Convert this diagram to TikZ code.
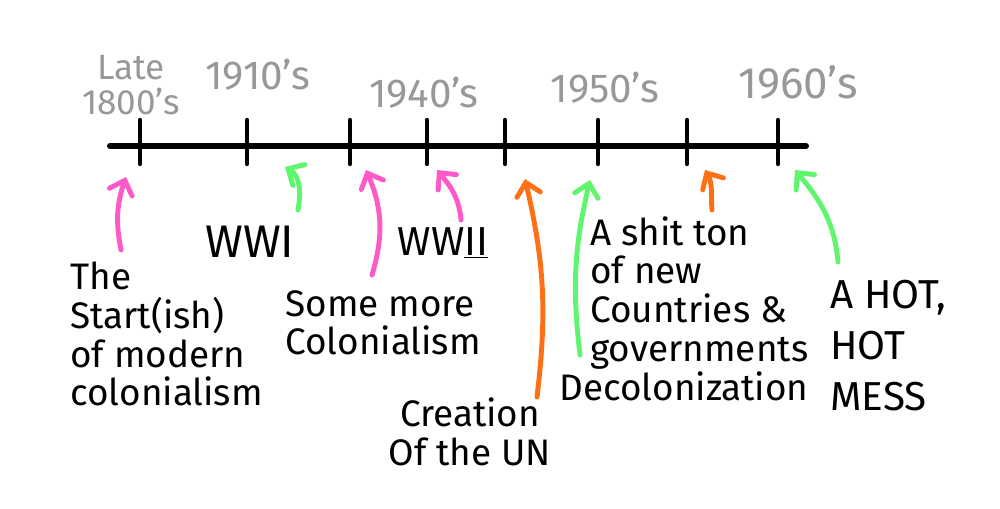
\documentclass[tikz,border=0pt]{standalone}
\usepackage{fontspec}
\setmainfont{Fira Sans}
\usetikzlibrary{arrows.meta}
\definecolor{cpink}{RGB}{255,88,200}
\definecolor{cgreen}{RGB}{95,245,110}
\definecolor{corange}{RGB}{255,112,20}
\definecolor{cgray}{RGB}{152,152,152}

\begin{document}
\begin{tikzpicture}[
    x=0.02cm, y=-0.02cm,
    axis/.style={line width=3.4pt, line cap=round},
    tickmark/.style={line width=2.5pt, line cap=round},
    year/.style={text=cgray, font=\fontsize{23}{19}\selectfont, align=center, inner sep=0pt},
    note/.style={font=\fontsize{21}{22}\selectfont, align=left, inner sep=0pt},
    pointer/.style={draw=#1, line width=2.8pt, line cap=round,
        -{Straight Barb[length=2.5mm, width=4.8mm, line cap=round]}}
]
\path[use as bounding box, fill=white] (0,0) rectangle (1000,509);

%% Timeline with its tick marks
\coordinate (lineL) at (110,146);
\coordinate (lineR) at (806,146);
\draw[axis] (lineL) -- (lineR);
\foreach \x [count=\i] in {140,247,350,427,505,598,687,778} {
    \coordinate (t\i) at (\x,146);
    \draw[tickmark] ([yshift=0.52cm]t\i) -- ([yshift=-0.36cm]t\i);
}

%% Decades above the line
\node[year, font=\fontsize{20}{20}\selectfont] (y1800) at (131,85) {Late\\1800's};
\node[year] (y1910) at (258,75) {1910's};
\node[year] (y1940) at (424,93) {1940's};
\node[year] (y1950) at (605,88) {1950's};
\node[year, font=\fontsize{25}{19}\selectfont] (y1960) at (798,82) {1960's};

%% Events below the line
\node[note, anchor=north west] (start)  at (70,262)
   {The\\Start(ish)\\of modern\\colonialism};
\node[note, font=\fontsize{26}{22}\selectfont] (wwi) at (250,242) {WWI};
\node[note, font=\fontsize{23}{22}\selectfont] (wwii) at (443,243) {WW\underline{II}};
\node[note, anchor=north west] (more)   at (285,290)
   {Some more\\Colonialism};
\node[note, align=center] (un)    at (470,432) {Creation\\Of the UN};
\node[note, anchor=north west] (ton)    at (590,216)
   {A shit ton\\of new\\Countries \&\\governments};
\node[note] (decol)  at (684,386) {Decolonization};
\node[note, anchor=north west, font=\fontsize{23}{29}\selectfont] (mess) at (830,280)
   {A HOT,\\HOT\\MESS};

%% Pointers from the events to the ticks
\coordinate (h1) at (126,177);  \coordinate (e1) at (121,250);
\coordinate (h2) at (285,167);  \coordinate (e2) at (298,210);
\coordinate (h3) at (366,170);  \coordinate (e3) at (372,275);
\coordinate (h4) at (437,170);  \coordinate (e4) at (461,220);
\coordinate (h5) at (525,179);  \coordinate (e5) at (537,397);
\coordinate (h6) at (590,180);  \coordinate (e6) at (580,355);
\coordinate (h7) at (705,170);  \coordinate (e7) at (712,210);
\coordinate (h8) at (795,170);  \coordinate (e8) at (838,262);

\draw[pointer=cpink]   (e1) to[bend left=15] (h1);
\draw[pointer=cgreen]  (e2) to[out=80, in=-30] (h2);
\draw[pointer=cpink]   (e3) to[bend right=20] (h3);
\draw[pointer=cpink]   (e4) to[out=95, in=-50] (h4);
\draw[pointer=corange] (e5) to[bend right=10] (h5);
\draw[pointer=cgreen]  (e6) to[bend left=10] (h6);
\draw[pointer=corange] (e7) to[out=95, in=-60] (h7);
\draw[pointer=cgreen]  (e8) to[out=95, in=-50] (h8);

\end{tikzpicture}
\end{document}
